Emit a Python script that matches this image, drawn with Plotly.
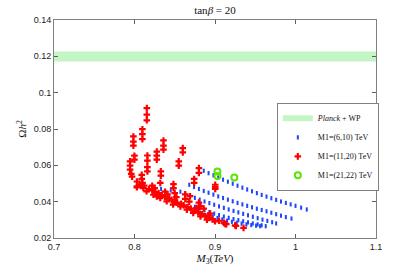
import plotly.graph_objects as go

# ---- data ----
band_x = [0.7, 1.1, 1.1, 0.7, 0.7]
band_y = [0.1172, 0.1172, 0.1226, 0.1226, 0.1172]

blue_x = [
    # row 1
    0.886, 0.892, 0.898, 0.904, 0.910, 0.916, 0.922, 0.928, 0.934, 0.940, 0.946,
    0.952, 0.958, 0.964, 0.970, 0.976, 0.982, 0.988, 0.994, 1.000, 1.007, 1.014,
    # row 2
    0.868, 0.874, 0.880, 0.886, 0.892, 0.898, 0.904, 0.910, 0.916, 0.922, 0.928,
    0.934, 0.940, 0.946, 0.952, 0.958, 0.964, 0.970, 0.976, 0.982, 0.988, 0.995,
    # row 3
    0.833, 0.845, 0.857, 0.863, 0.869, 0.875, 0.881, 0.887, 0.893, 0.899, 0.905, 0.911,
    0.917, 0.923, 0.929, 0.935, 0.941, 0.947, 0.953, 0.959, 0.965, 0.971, 0.976,
    # row 4
    0.875, 0.881, 0.887, 0.893, 0.899, 0.905, 0.911, 0.917, 0.923, 0.929, 0.935,
    0.941, 0.947, 0.953, 0.958, 0.963,
    # row 5
    0.897, 0.903, 0.909, 0.915, 0.921, 0.927, 0.933, 0.939, 0.945, 0.951, 0.956,
]
blue_y = [
    0.0570, 0.0557, 0.0545, 0.0533, 0.0521, 0.0510, 0.0499, 0.0488, 0.0477, 0.0467, 0.0457,
    0.0447, 0.0437, 0.0428, 0.0419, 0.0410, 0.0401, 0.0393, 0.0385, 0.0377, 0.0367, 0.0357,
    0.0493, 0.0481, 0.0470, 0.0459, 0.0449, 0.0439, 0.0429, 0.0420, 0.0411, 0.0402, 0.0393,
    0.0385, 0.0377, 0.0369, 0.0361, 0.0354, 0.0347, 0.0339, 0.0331, 0.0323, 0.0315, 0.0307,
    0.0470, 0.0462, 0.0455, 0.0443, 0.0432, 0.0421, 0.0411, 0.0401, 0.0392, 0.0383, 0.0374, 0.0366,
    0.0357, 0.0349, 0.0341, 0.0333, 0.0325, 0.0317, 0.0309, 0.0301, 0.0294, 0.0287, 0.0280,
    0.0372, 0.0362, 0.0352, 0.0343, 0.0334, 0.0326, 0.0318, 0.0311, 0.0304, 0.0298, 0.0292,
    0.0286, 0.0280, 0.0275, 0.0270, 0.0265,
    0.0318, 0.0310, 0.0302, 0.0295, 0.0289, 0.0284, 0.0279, 0.0275, 0.0271, 0.0268, 0.0265,
]

red_x = [
    0.8153, 0.8153, 0.8153, 0.8098, 0.8098, 0.8098, 0.7986, 0.7986, 0.7986,
    0.836, 0.836, 0.836, 0.8277, 0.8277, 0.8277, 0.860, 0.860, 0.7999, 0.7999,
    0.816, 0.816, 0.816, 0.816, 0.7945, 0.7945, 0.7945, 0.796, 0.797,
    0.855, 0.855, 0.8327, 0.8327, 0.832, 0.880, 0.880, 0.8741, 0.8741,
    0.9003, 0.9003, 0.9003, 0.809, 0.809, 0.810, 0.8484, 0.8484, 0.803, 0.803, 0.806,
    # lower band
    0.803, 0.811, 0.815, 0.8235, 0.8277, 0.832, 0.840, 0.848, 0.857, 0.865, 0.873,
    0.882, 0.890, 0.900, 0.9127, 0.925, 0.9355,
    0.808, 0.812, 0.818, 0.822, 0.826, 0.830, 0.834, 0.838, 0.843, 0.846, 0.850,
    0.853, 0.858, 0.861, 0.866, 0.870, 0.875, 0.879, 0.884, 0.888, 0.893, 0.897,
    0.905, 0.911, 0.914, 0.926,
    # spikes
    0.822, 0.825, 0.838, 0.841, 0.850, 0.852, 0.863, 0.863, 0.869, 0.868, 0.880,
    0.882, 0.886, 0.877, 0.894, 0.892,
]
red_y = [
    0.0915, 0.0879, 0.0848, 0.0799, 0.0772, 0.0744, 0.0759, 0.0731, 0.0708,
    0.0737, 0.0709, 0.0686, 0.0676, 0.0653, 0.0631, 0.0695, 0.0671, 0.0653, 0.0631,
    0.0654, 0.0626, 0.0590, 0.0567, 0.0622, 0.0598, 0.0576, 0.0553, 0.0538,
    0.0622, 0.0598, 0.0567, 0.0543, 0.0503, 0.0585, 0.0558, 0.0525, 0.0503,
    0.0493, 0.0480, 0.0470, 0.0548, 0.0525, 0.0503, 0.0497, 0.0475, 0.0511, 0.0484, 0.0493,
    0.0479, 0.0475, 0.0457, 0.0438, 0.0429, 0.0420, 0.0402, 0.0384, 0.0374, 0.0356, 0.0338,
    0.0319, 0.0301, 0.0292, 0.0278, 0.0270, 0.0256,
    0.0490, 0.0488, 0.0470, 0.0462, 0.0452, 0.0447, 0.0436, 0.0428, 0.0417, 0.0410, 0.0402,
    0.0395, 0.0388, 0.0380, 0.0370, 0.0362, 0.0350, 0.0342, 0.0331, 0.0320, 0.0310, 0.0302,
    0.0295, 0.0283, 0.0276, 0.0266,
    0.0488, 0.0475, 0.0455, 0.0440, 0.0447, 0.0425, 0.0440, 0.0415, 0.0430, 0.0400, 0.0395,
    0.0375, 0.0362, 0.0365, 0.0335, 0.0325,
]

green_x = [0.903, 0.903, 0.924]
green_y = [0.0566, 0.0541, 0.0533]

x_ticks = [0.7, 0.8, 0.9, 1.0, 1.1]
x_tick_labels = ["0.7", "0.8", "0.9", "1", "1.1"]
y_ticks = [0.02, 0.04, 0.06, 0.08, 0.1, 0.12, 0.14]
y_tick_labels = ["0.02", "0.04", "0.06", "0.08", "0.1", "0.12", "0.14"]

serif = "Liberation Serif"
sans = "Liberation Sans"

fig = go.Figure()
fig.add_trace(go.Scatter(
    x=band_x, y=band_y, mode="none", fill="toself",
    fillcolor="rgb(196,246,196)", name="<i>Planck</i> + WP",
))
fig.add_trace(go.Scatter(
    x=blue_x, y=blue_y, mode="markers", name="M1=(6,10) TeV",
    marker=dict(symbol="line-ns", size=3, color="rgb(30,70,255)",
                line=dict(width=2, color="rgb(30,70,255)")),
))
fig.add_trace(go.Scatter(
    x=red_x, y=red_y, mode="markers", name="M1=(11,20) TeV",
    marker=dict(symbol="cross", size=5.5, color="rgb(255,0,0)", line=dict(width=0)),
))
fig.add_trace(go.Scatter(
    x=green_x, y=green_y, mode="markers", name="M1=(21,22) TeV",
    marker=dict(symbol="circle-open", size=6, color="rgb(90,230,0)",
                line=dict(width=2, color="rgb(90,230,0)")),
))

axis_common = dict(
    showgrid=False, zeroline=False, showline=True, mirror="ticks",
    linecolor="#808080", linewidth=1, ticks="inside", ticklen=4,
    tickcolor="#606060", tickfont=dict(family=sans, size=9, color="#222"),
    automargin=False,
)

fig.update_layout(
    width=415, height=269,
    margin=dict(l=54, r=39, t=20, b=31, autoexpand=False),
    paper_bgcolor="white", plot_bgcolor="white",
    title=dict(text="tan<i>β</i> = 20", x=(54 + 376) / 2 / 415, xanchor="center",
               y=1 - 10 / 269, yanchor="middle",
               font=dict(family=serif, size=11, color="#111")),
    xaxis=dict(range=[0.7, 1.1], tickvals=x_ticks, ticktext=x_tick_labels,
               title=dict(text="<i>M</i><sub>3</sub>(<i>TeV</i>)", standoff=2,
                          font=dict(family=serif, size=11, color="#111")),
               **axis_common),
    yaxis=dict(range=[0.02, 0.14], tickvals=y_ticks, ticktext=y_tick_labels,
               title=dict(text="Ω<i>h</i><sup>2</sup>", standoff=4,
                          font=dict(family=serif, size=11, color="#111")),
               **axis_common),
    legend=dict(x=0.692, y=0.62, xanchor="left", yanchor="top",
                bgcolor="white", bordercolor="#808080", borderwidth=1,
                font=dict(family=serif, size=8, color="#111"),
                tracegroupgap=0, itemwidth=30),
    showlegend=True,
)

fig.write_html("out.html", config={"displayModeBar": False},
               post_script="document.body.style.margin='0';")
